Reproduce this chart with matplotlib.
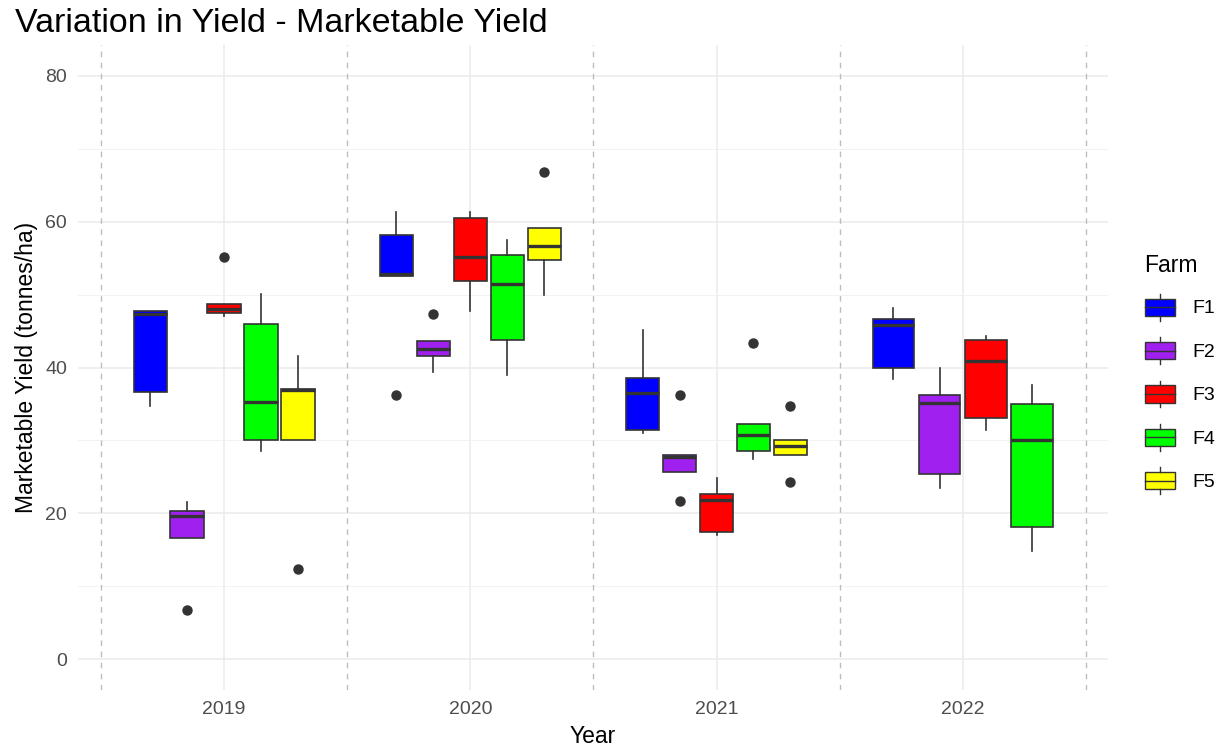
import matplotlib
matplotlib.use("Agg")
import matplotlib.pyplot as plt
from matplotlib.legend_handler import HandlerBase
from matplotlib.patches import Rectangle, Patch
from matplotlib.lines import Line2D

# box statistics, one entry per year (None = no data)
years = ["2019", "2020", "2021", "2022"]
farms = ["F1", "F2", "F3", "F4", "F5"]
colors = ["#0000FF", "#A020F0", "#FF0000", "#00FF00", "#FFFF00"]

q1 = {
    "F1": [36.7, 52.6, 31.5, 40.0],
    "F2": [16.6, 41.6, 25.7, 25.4],
    "F3": [47.5, 51.9, 17.5, 33.1],
    "F4": [30.1, 43.8, 28.6, 18.1],
    "F5": [30.1, 54.7, 28.0, None],
}
med = {
    "F1": [47.4, 52.8, 36.5, 45.8],
    "F2": [19.6, 42.5, 27.7, 35.1],
    "F3": [48.0, 55.1, 21.9, 40.9],
    "F4": [35.3, 51.4, 30.7, 30.0],
    "F5": [36.9, 56.7, 29.3, None],
}
q3 = {
    "F1": [47.8, 58.2, 38.5, 46.6],
    "F2": [20.3, 43.6, 28.0, 36.2],
    "F3": [48.7, 60.5, 22.7, 43.8],
    "F4": [45.9, 55.4, 32.2, 35.0],
    "F5": [37.0, 59.1, 30.1, None],
}
whis_lo = {
    "F1": [34.7, 52.6, 31.0, 38.4],
    "F2": [16.6, 39.4, 25.7, 23.5],
    "F3": [47.1, 47.8, 17.0, 31.4],
    "F4": [28.5, 39.0, 27.4, 14.8],
    "F5": [30.1, 50.0, 28.0, None],
}
whis_hi = {
    "F1": [47.8, 61.3, 45.2, 48.1],
    "F2": [21.5, 43.6, 28.0, 40.0],
    "F3": [48.7, 61.3, 24.8, 44.3],
    "F4": [50.1, 57.5, 32.2, 37.6],
    "F5": [41.6, 59.1, 30.1, None],
}
outliers = {
    "F1": [[], [36.2], [], []],
    "F2": [[6.8], [47.3], [36.2, 21.7], []],
    "F3": [[55.2], [], [], []],
    "F4": [[], [], [43.3], []],
    "F5": [[12.4], [66.8], [34.7, 24.3], []],
}

EDGE = "#333333"


class BoxKeyHandler(HandlerBase):
    # ggplot style boxplot legend key
    def create_artists(self, legend, orig_handle, xdescent, ydescent,
                       width, height, fontsize, trans):
        x0, y0 = -xdescent, -ydescent
        fc = orig_handle.get_facecolor()
        lo, hi = 0.18, 0.82
        box = Rectangle((x0, y0 + lo * height), width, (hi - lo) * height,
                        facecolor=fc, edgecolor=EDGE, lw=1.0, transform=trans)
        xm = x0 + width / 2
        w1 = Line2D([xm, xm], [y0, y0 + lo * height], color=EDGE, lw=1.0, transform=trans)
        w2 = Line2D([xm, xm], [y0 + hi * height, y0 + height], color=EDGE, lw=1.0, transform=trans)
        m = Line2D([x0, x0 + width], [y0 + 0.5 * height] * 2,
                   color=EDGE, lw=1.0, transform=trans)
        return [box, w1, w2, m]


def make_plot(out_path):
    plt.rcParams["font.family"] = ["Liberation Sans", "DejaVu Sans"]
    fig = plt.figure(figsize=(12.25, 7.5), dpi=100)
    ax = fig.add_axes([0.0637, 0.08, 0.8408, 0.86])

    # dodge positions within each year
    for yi, year in enumerate(years):
        present = [f for f in farms if med[f][yi] is not None]
        n = len(present)
        slot = 0.75 / n
        for k, f in enumerate(present):
            pos = yi + 1 - 0.375 + slot * (k + 0.5)
            stats = [{
                "med": med[f][yi], "q1": q1[f][yi], "q3": q3[f][yi],
                "whislo": whis_lo[f][yi], "whishi": whis_hi[f][yi],
                "fliers": outliers[f][yi],
            }]
            ax.bxp(stats, positions=[pos], widths=slot * 0.9, patch_artist=True,
                   showcaps=False, manage_ticks=False,
                   boxprops=dict(facecolor=colors[farms.index(f)], edgecolor=EDGE, lw=1.2),
                   medianprops=dict(color=EDGE, lw=2.4),
                   whiskerprops=dict(color=EDGE, lw=1.2),
                   flierprops=dict(marker="o", markerfacecolor=EDGE, markeredgecolor=EDGE,
                                   markersize=6.5))

    for b in [0.5, 1.5, 2.5, 3.5, 4.5]:
        ax.axvline(b, color="#BDBDBD", lw=1.0, ls=(0, (4, 4)), zorder=1)

    ax.set_xlim(0.407, 4.59)
    ax.set_ylim(-4.2, 84.2)
    ax.set_xticks([1, 2, 3, 4])
    ax.set_xticklabels(years)
    ax.set_yticks([0, 20, 40, 60, 80])
    ax.set_yticks([10, 30, 50, 70], minor=True)
    ax.grid(True, which="major", color="#EBEBEB", lw=1.1, zorder=0)
    ax.grid(True, which="minor", axis="y", color="#F2F2F2", lw=0.7, zorder=0)
    ax.set_axisbelow(True)
    for s in ax.spines.values():
        s.set_visible(False)
    ax.tick_params(which="both", length=0, labelsize=14, labelcolor="#4D4D4D", pad=8)

    ax.set_xlabel("Year", fontsize=16.5, color="black", labelpad=5)
    ax.set_ylabel("Marketable Yield (tonnes/ha)", fontsize=16.5, color="black", labelpad=5)
    fig.text(0.012, 0.968, "Variation in Yield - Marketable Yield", fontsize=24.5,
             ha="left", va="center")

    handles = [Patch(facecolor=c) for c in colors]
    fig.legend(handles, farms, title="Farm", loc="center left",
               bbox_to_anchor=(0.92, 0.501), frameon=False,
               handler_map={Patch: BoxKeyHandler()},
               handlelength=1.55, handleheight=1.75, labelspacing=0.85,
               handletextpad=0.9, fontsize=14, title_fontsize=16.5,
               alignment="left")

    fig.savefig(out_path, dpi=100)
    plt.close(fig)


if __name__ == "__main__":
    make_plot("out.png")
